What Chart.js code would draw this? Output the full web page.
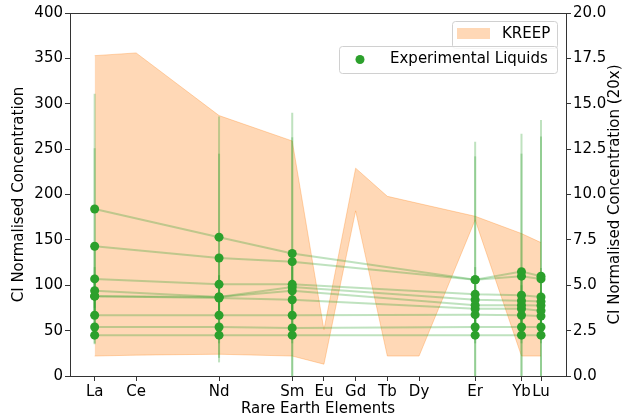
<!DOCTYPE html>
<html>
<head>
<meta charset="utf-8">
<script src="https://cdn.jsdelivr.net/npm/chart.js@4.4.1/dist/chart.umd.min.js"></script>
<style>
  html, body { margin: 0; padding: 0; background: #fff; }
  #wrap { width: 624px; height: 418px; }
</style>
</head>
<body>
<div id="wrap"><canvas id="reeChart" width="624" height="418"></canvas></div>
<script>
// x positions: ionic radius of each element (axis runs high -> low)
const elements = ["La", "Ce", "Nd", "Sm", "Eu", "Gd", "Tb", "Dy", "Er", "Yb", "Lu"];
const radii = [1.160, 1.143, 1.109, 1.079, 1.066, 1.053, 1.040, 1.027, 1.004, 0.985, 0.977];

// KREEP range (left axis)
const kreepLow = [22, 23, 24, 22, 13, 182, 22, 22, 172, 22, 22];
const kreepHigh = [353, 356, 287, 259, 51, 229, 198, 190, 176, 157, 147];

// experimental liquids (right axis, 20x) measured at La, Nd, Sm, Er, Yb, Lu
const liquidRadii = [1.160, 1.109, 1.079, 1.004, 0.985, 0.977];
const liq1 = [9.20, 7.65, 6.75, 5.30, 5.75, 5.50];
const liq2 = [7.15, 6.50, 6.30, 5.30, 5.50, 5.35];
const liq3 = [5.35, 5.05, 5.05, 4.50, 4.45, 4.35];
const liq4 = [4.70, 4.35, 4.90, 4.20, 4.15, 4.10];
const liq5 = [4.40, 4.35, 4.70, 3.90, 3.90, 3.88];
const liq6 = [4.40, 4.30, 4.20, 3.70, 3.70, 3.60];
const liq7 = [3.35, 3.35, 3.35, 3.38, 3.35, 3.30];
const liq8 = [2.70, 2.70, 2.65, 2.70, 2.70, 2.70];
const liq9 = [2.25, 2.25, 2.25, 2.25, 2.25, 2.25];

const err1 = [6.35, 6.65, 7.75, 7.60, 7.60, 8.60];
const err2 = [5.40, 5.75, 6.85, 6.80, 6.75, 7.85];
const err3 = [1.60, 1.50, 1.70, 1.50, 1.40, 1.60];
const err4 = [1.30, 1.20, 1.40, 1.30, 1.20, 1.30];
const err5 = [1.20, 1.20, 1.30, 1.10, 1.10, 1.20];
const err6 = [1.10, 1.00, 1.10, 1.00, 1.00, 1.10];
const err7 = [0.90, 0.90, 0.90, 0.90, 0.90, 0.90];
const err8 = [0.60, 0.60, 0.60, 0.60, 0.60, 0.60];
const err9 = [0.45, 0.45, 0.45, 0.45, 0.45, 0.45];

const liquids = [liq1, liq2, liq3, liq4, liq5, liq6, liq7, liq8, liq9];
const errors = [err1, err2, err3, err4, err5, err6, err7, err8, err9];

const leftTicks = [0, 50, 100, 150, 200, 250, 300, 350, 400];
const rightTicks = [0, 2.5, 5, 7.5, 10, 12.5, 15, 17.5, 20];

const FONT = "'DejaVu Sans', sans-serif";
const AXIS = "#333";
const GREEN = "#2ca02c";
const GREEN_A = "rgba(44,160,44,0.3)";
const ORANGE_A = "rgba(255,127,14,0.3)";

Chart.defaults.font.family = FONT;
Chart.defaults.font.size = 15;
Chart.defaults.color = "#000";

const pts = (xs, ys) => xs.map((x, i) => ({ x: x, y: ys[i] }));

const datasets = [
    {
        data: pts(radii, kreepLow),
        yAxisID: "y",
        borderColor: ORANGE_A,
        borderWidth: 1,
        pointRadius: 0,
        fill: false,
        order: 3,
    },
    {
        data: pts(radii, kreepHigh),
        yAxisID: "y",
        borderColor: ORANGE_A,
        borderWidth: 1,
        backgroundColor: ORANGE_A,
        pointRadius: 0,
        fill: "-1",
        order: 2,
    },
];
liquids.forEach((vals) => {
    datasets.push({
        data: pts(liquidRadii, vals),
        yAxisID: "y2",
        borderColor: GREEN_A,
        borderWidth: 2,
        pointRadius: 4.5,
        pointBackgroundColor: GREEN,
        pointBorderWidth: 0,
        fill: false,
        order: 1,
    });
});

// vertical error bars, drawn right after the KREEP band
const errorBars = {
    id: "errorBars",
    afterDatasetDraw(chart, args) {
        if (args.index !== 1) return;
        const { ctx, chartArea: a } = chart;
        const xs = chart.scales.x, ys = chart.scales.y2;
        ctx.save();
        ctx.beginPath();
        ctx.rect(a.left, a.top, a.right - a.left, a.bottom - a.top);
        ctx.clip();
        ctx.strokeStyle = GREEN_A;
        ctx.lineWidth = 2;
        liquids.forEach((vals, s) => {
            vals.forEach((v, i) => {
                const px = xs.getPixelForValue(liquidRadii[i]);
                ctx.beginPath();
                ctx.moveTo(px, ys.getPixelForValue(v - errors[s][i]));
                ctx.lineTo(px, ys.getPixelForValue(v + errors[s][i]));
                ctx.stroke();
            });
        });
        ctx.restore();
    },
};

// top spine, right axis title (reads bottom to top) and the two legends
const frameAndLegend = {
    id: "frameAndLegend",
    afterDraw(chart) {
        const { ctx, chartArea: a } = chart;
        ctx.save();
        ctx.strokeStyle = AXIS;
        ctx.lineWidth = 1;
        ctx.beginPath();
        ctx.moveTo(a.left, a.top + 0.5);
        ctx.lineTo(a.right, a.top + 0.5);
        ctx.stroke();

        ctx.font = "15px " + FONT;
        ctx.fillStyle = "#000";
        ctx.textBaseline = "middle";
        ctx.textAlign = "center";
        ctx.save();
        ctx.translate(615, (a.top + a.bottom) / 2);
        ctx.rotate(-Math.PI / 2);
        ctx.fillText("CI Normalised Concentration (20x)", 0, 0);
        ctx.restore();

        const box = (x, y, w, h) => {
            ctx.beginPath();
            ctx.roundRect(x + 0.5, y + 0.5, w, h, 3);
            ctx.fillStyle = "rgba(255,255,255,0.8)";
            ctx.fill();
            ctx.strokeStyle = "#d0d0d0";
            ctx.lineWidth = 1;
            ctx.stroke();
        };
        ctx.textAlign = "left";

        // KREEP legend
        box(452, 21, 105, 27);
        ctx.fillStyle = ORANGE_A;
        ctx.fillRect(457, 28, 33, 11);
        ctx.fillStyle = "#000";
        ctx.fillText("KREEP", 502, 34);

        // Experimental Liquids legend
        box(339, 46, 218, 27);
        ctx.fillStyle = GREEN;
        ctx.beginPath();
        ctx.arc(360, 59.5, 4.5, 0, Math.PI * 2);
        ctx.fill();
        ctx.fillStyle = "#000";
        ctx.fillText("Experimental Liquids", 390, 59.5);
        ctx.restore();
    },
};

new Chart(document.getElementById("reeChart"), {
    type: "line",
    data: { datasets: datasets },
    options: {
        responsive: false,
        animation: false,
        devicePixelRatio: 1,
        layout: { padding: { top: 13, left: 0, right: 0, bottom: 0 } },
        plugins: {
            legend: { display: false },
            tooltip: { enabled: false },
        },
        scales: {
            x: {
                type: "linear",
                reverse: true,
                min: 0.96675,
                max: 1.17011,
                afterBuildTicks: (s) => { s.ticks = radii.map((v) => ({ value: v })); },
                afterFit: (s) => { s.height = 42; },
                ticks: {
                    autoSkip: false,
                    maxRotation: 0,
                    padding: 2,
                    callback: (v) => {
                        const i = radii.findIndex((r) => Math.abs(r - v) < 1e-6);
                        return i >= 0 ? elements[i] : "";
                    },
                },
                grid: { drawOnChartArea: false, tickLength: 5, color: AXIS },
                border: { color: AXIS, width: 1 },
                title: {
                    display: true,
                    text: "Rare Earth Elements",
                    padding: { top: 0, bottom: 0 },
                },
            },
            y: {
                position: "left",
                min: 0,
                max: 400,
                afterBuildTicks: (s) => { s.ticks = leftTicks.map((v) => ({ value: v })); },
                afterFit: (s) => { s.width = 70; },
                ticks: { padding: 2 },
                grid: { drawOnChartArea: false, tickLength: 5, color: AXIS },
                border: { color: AXIS, width: 1 },
                title: {
                    display: true,
                    text: "CI Normalised Concentration",
                    padding: { top: 10.5, bottom: 0 },
                },
            },
            y2: {
                position: "right",
                min: 0,
                max: 20,
                afterBuildTicks: (s) => { s.ticks = rightTicks.map((v) => ({ value: v })); },
                afterFit: (s) => { s.width = 58; },
                ticks: { padding: 2, callback: (v) => v.toFixed(1) },
                grid: { drawOnChartArea: false, tickLength: 5, color: AXIS },
                border: { color: AXIS, width: 1 },
                title: { display: false },
            },
        },
    },
    plugins: [errorBars, frameAndLegend],
});
</script>
</body>
</html>
